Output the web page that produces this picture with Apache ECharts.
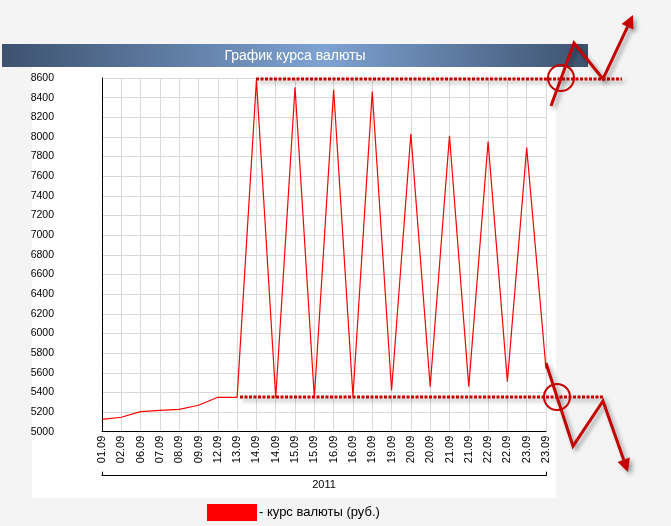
<!DOCTYPE html>
<html><head><meta charset="utf-8">
<script src="https://cdn.jsdelivr.net/npm/echarts@6/dist/echarts.min.js"></script>
<style>html,body{margin:0;padding:0;background:#f4f4f4;}#c{width:671px;height:526px;}</style>
</head><body><div id="c"></div>
<script>
const titleText = 'График курса валюты';
const seriesName = 'курс валюты (руб.)';
const yearLabels = ['2011'];
const dates = ['01.09','02.09','06.09','07.09','08.09','09.09','12.09','13.09','14.09','14.09','15.09','15.09','16.09','16.09','19.09','19.09','20.09','20.09','21.09','21.09','22.09','22.09','23.09','23.09'];
const rates = [5126,5147,5204,5218,5228,5269,5350,5350,8580,5345,8505,5345,8481,5360,8461,5420,8033,5459,8013,5459,7952,5510,7891,5640];
const yMin = 5000, yMax = 8600, yStep = 200;

const chart = echarts.init(document.getElementById('c'), null, {renderer:'canvas'});
const F = 'Liberation Sans, Arial, sans-serif';
const red = '#c40000';
function arrowHead(tip, from, len, half) {
  const dx = tip[0]-from[0], dy = tip[1]-from[1];
  const L = Math.sqrt(dx*dx+dy*dy), ux = dx/L, uy = dy/L;
  const bx = tip[0]-len*ux, by = tip[1]-len*uy;
  return {base:[bx,by], pts:[tip,[bx+half*uy, by-half*ux],[bx-half*uy, by+half*ux]]};
}
const shadow = {shadowBlur:4, shadowColor:'rgba(0,0,0,0.35)', shadowOffsetX:3, shadowOffsetY:3};
const ah1 = arrowHead([633,15],[603,79],13,6.5);
const ah2 = arrowHead([628,472],[603,401],13,6.5);

chart.setOption({
  animation:false,
  backgroundColor:'#f4f4f4',
  textStyle:{fontFamily:F},
  graphic:[
    {type:'rect', z:-10, shape:{x:32,y:66,width:524,height:432}, style:{fill:'#ffffff'}},
    {type:'rect', z:-5, shape:{x:2,y:44,width:586,height:23},
     style:{fill:new echarts.graphic.LinearGradient(0,0,1,0,[{offset:0,color:'#3d526f'},{offset:0.55,color:'#7ea2d2'},{offset:1,color:'#3d526f'}])}},
    {type:'text', z:5, style:{text:titleText, x:295, y:56, align:'center', verticalAlign:'middle', fill:'#ffffff', font:'14px '+F}},
    {type:'polyline', z:50, shape:{points:[[256,79],[622,79]]}, style:{stroke:red, lineWidth:3, lineDash:[3,1.5], fill:null, ...shadow}},
    {type:'polyline', z:50, shape:{points:[[240,397],[603,397]]}, style:{stroke:red, lineWidth:3, lineDash:[3,1.5], fill:null, ...shadow}},
    {type:'polyline', z:51, shape:{points:[[551,106],[574,43],[603,79],ah1.base]}, style:{stroke:red, lineWidth:3, fill:null, ...shadow}},
    {type:'polygon', z:51, shape:{points:ah1.pts}, style:{fill:red, ...shadow}},
    {type:'circle', z:51, shape:{cx:561,cy:78,r:13}, style:{stroke:red, lineWidth:2, fill:null}},
    {type:'polyline', z:51, shape:{points:[[546,363],[573,446],[603,401],ah2.base]}, style:{stroke:red, lineWidth:3, fill:null, ...shadow}},
    {type:'polygon', z:51, shape:{points:ah2.pts}, style:{fill:red, ...shadow}},
    {type:'circle', z:51, shape:{cx:557,cy:397,r:13}, style:{stroke:red, lineWidth:2, fill:null}}
  ],
  legend:{
    left:207, top:504, padding:0, itemWidth:50, itemHeight:17, icon:'rect', selectedMode:false,
    itemGap:0, formatter:function(n){return '- '+n;},
    textStyle:{fontSize:13, color:'#000', fontFamily:F, padding:[0,0,0,-3]}, data:[seriesName]
  },
  grid:{left:102, right:125, top:78, bottom:94.3, containLabel:false},
  xAxis:[
    {type:'category', data:dates, boundaryGap:false,
     axisLine:{lineStyle:{color:'#000', width:1}}, axisTick:{show:false},
     axisLabel:{rotate:90, interval:0, margin:4, fontSize:11, color:'#000', fontFamily:F},
     splitLine:{show:true, interval:0, lineStyle:{color:'#d9d9d9', width:1}}},
    {type:'category', data:yearLabels, position:'bottom', offset:44, boundaryGap:true,
     axisLine:{lineStyle:{color:'#000', width:1}},
     axisTick:{show:true, inside:true, length:4, lineStyle:{color:'#000'}},
     axisLabel:{margin:4, fontSize:11, color:'#000', fontFamily:F},
     splitLine:{show:false}}
  ],
  yAxis:{type:'value', min:yMin, max:yMax, interval:yStep,
    axisLine:{show:true, lineStyle:{color:'#000', width:1}}, axisTick:{show:false},
    axisLabel:{margin:48, fontSize:10.5, color:'#000', fontFamily:F, formatter:function(v){return String(v);}},
    splitLine:{show:true, lineStyle:{color:'#d9d9d9', width:1}}},
  series:[{name:seriesName, type:'line', data:rates, xAxisIndex:0, symbol:'none',
    lineStyle:{color:'#ff0000', width:1.2}, itemStyle:{color:'#ff0000'}}]
});
</script></body></html>
